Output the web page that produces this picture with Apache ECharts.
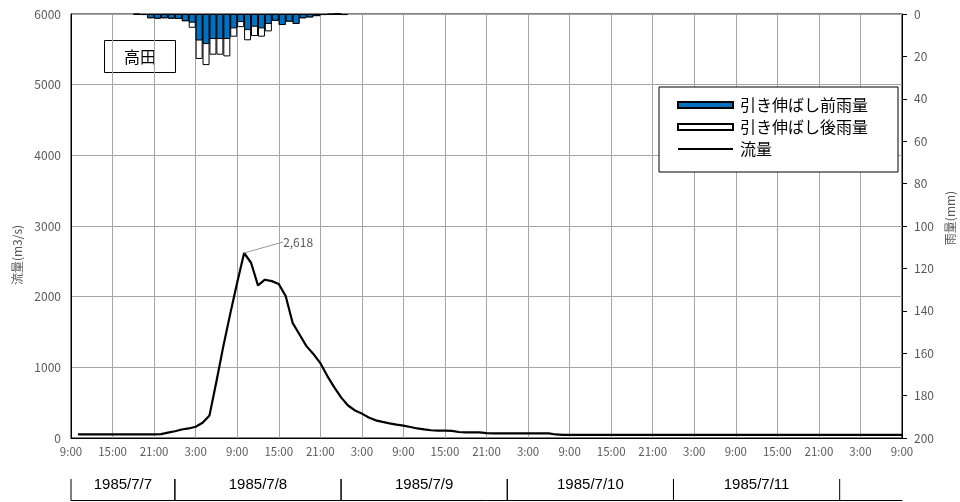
<!DOCTYPE html>
<html><head><meta charset="utf-8">
<script src="https://cdn.jsdelivr.net/npm/echarts@6/dist/echarts.min.js"></script>
<style>html,body{margin:0;padding:0;background:#fff}#c{width:960px;height:502px}</style>
</head><body><div id="c"></div>
<script>
const stationName = '高田';
const seriesNames = ['引き伸ばし前雨量', '引き伸ばし後雨量', '流量'];
const leftAxisName = '流量(m3/s)';
const rightAxisName = '雨量(mm)';
const hourTickLabels = ['9:00','15:00','21:00','3:00','9:00','15:00','21:00','3:00','9:00','15:00','21:00','3:00','9:00','15:00','21:00','3:00','9:00','15:00','21:00','3:00','9:00'];
const dayLabels = ['1985/7/7', '1985/7/8', '1985/7/9', '1985/7/10', '1985/7/11'];
const dayBoundaryHours = [0, 15, 39, 63, 87, 111];

// hourly rain, first bar covers hour 9 -> 10 from 1985/7/7 9:00
const rainStartHour = 9;
const rainBefore = [0.3,0.5,2.0,2.2,2.0,2.2,2.3,3.4,4.1,12.5,14.2,11.8,11.8,11.8,6.8,3.8,7.6,6.0,6.8,4.7,3.2,5.2,3.6,4.7,2.0,1.6,1.0,0.5,0.3,0,0.5];
const rainAfter  = [0.3,0.5,2.0,2.2,2.0,2.2,2.3,3.4,6.5,21.2,24.1,19.2,19.2,20.0,10.7,6.2,12.4,10.4,10.7,8.2,3.2,5.2,3.6,4.7,2.0,1.6,1.0,0.5,0.3,0,0.5];

// hourly discharge, first value at hour 1 (1985/7/7 10:00)
const flowStartHour = 1;
const flow = [
  50,50,50,50,50,50,50,50,50,50,50,50,
  55,75,95,120,135,160,215,320,800,1300,1760,2200,
  2618,2480,2160,2240,2220,2180,2010,1630,1465,1300,1190,1060,
  880,720,575,460,390,345,290,250,228,208,190,175,
  155,135,122,110,104,104,100,85,80,80,80,68,
  66,66,66,66,66,66,66,66,66,50,45,45,
  45,45,45,45,45,45,45,45,45,45,45,45,
  45,45,45,45,45,45,45,45,45,45,45,45,
  45,45,45,45,45,45,45,45,45,45,45,45,
  45,45,45,45,45,45,45,45,45,45,45,45
];
const peakLabel = '2,618';

const FONT = '"Noto Sans CJK JP", "Noto Sans", sans-serif';
const GRAY = '#595959';

const peakIdx = flow.indexOf(Math.max(...flow));
const flowData = flow.map((v, i) => {
  const p = [flowStartHour + i, v];
  if (i === peakIdx) {
    return { value: p, label: { show: true, position: 'right', formatter: peakLabel } };
  }
  return p;
});
const beforeData = rainBefore.map((v, i) => [rainStartHour + i + 0.5, v]);
const afterData = rainAfter.map((v, i) => [rainStartHour + i + 0.5, v]);
const dayData = dayLabels.map((d, i) => [dayBoundaryHours[i], dayBoundaryHours[i + 1], d]);

const chart = echarts.init(document.getElementById('c'), null, { renderer: 'canvas' });
chart.setOption({
  animation: false,
  textStyle: { fontFamily: FONT },
  grid: [
    { left: 71, right: 58, top: 14, bottom: 64, show: true, borderColor: '#000', borderWidth: 1, outerBoundsMode: 'none', containLabel: false },
    { left: 71, right: 58, top: 479, height: 21, outerBoundsMode: 'none', containLabel: false }
  ],
  legend: {
    data: [
      { name: seriesNames[0], icon: 'rect' },
      { name: seriesNames[1], icon: 'rect' },
      { name: seriesNames[2], icon: 'path://M0 0H55V2.2H0Z' }
    ],
    orient: 'vertical', left: 659, top: 87,
    padding: [10, 30, 15, 18],
    itemWidth: 55, itemHeight: 6, itemGap: 6,
    borderColor: '#000', borderWidth: 1, backgroundColor: '#fff',
    selectedMode: false,
    textStyle: { fontSize: 16, color: '#000', fontFamily: FONT, padding: [0, 0, 0, 2] }
  },
  xAxis: [
    {
      type: 'value', gridIndex: 0, min: 0, max: 120, interval: 6,
      axisLine: { lineStyle: { color: '#000', width: 1 } },
      axisTick: { show: false },
      axisLabel: {
        color: GRAY, fontSize: 11.5, margin: 8,
        formatter: v => hourTickLabels[Math.round(v / 6)]
      },
      splitLine: { show: true, lineStyle: { color: '#a6a6a6', width: 1 } }
    },
    {
      type: 'value', gridIndex: 1, min: 0, max: 120, position: 'bottom',
      axisLine: { show: true, onZero: false, lineStyle: { color: '#000', width: 1 } },
      axisTick: { show: false }, axisLabel: { show: false }, splitLine: { show: false }
    }
  ],
  yAxis: [
    {
      type: 'value', gridIndex: 0, min: 0, max: 6000, interval: 1000,
      name: leftAxisName, nameLocation: 'middle', nameGap: 47,
      nameTextStyle: { color: GRAY, fontSize: 12, padding: [0, 58, 0, 0] },
      axisLine: { show: true, lineStyle: { color: '#000', width: 1 } },
      axisTick: { show: false },
      axisLabel: { color: GRAY, fontSize: 12, margin: 10, formatter: v => String(v) },
      splitLine: { show: true, lineStyle: { color: '#a6a6a6', width: 1 } }
    },
    {
      type: 'value', gridIndex: 0, min: 0, max: 200, interval: 20, inverse: true, position: 'right',
      name: rightAxisName, nameLocation: 'middle', nameGap: 38, nameRotate: 90,
      nameTextStyle: { color: GRAY, fontSize: 12, padding: [0, 0, 0, 16] },
      axisLine: { show: true, lineStyle: { color: '#000', width: 1 } },
      axisTick: { show: true, length: 5, lineStyle: { color: '#000' } },
      axisLabel: { color: GRAY, fontSize: 12, margin: 12, formatter: v => String(v) },
      splitLine: { show: false }
    },
    {
      type: 'value', gridIndex: 1, min: 0, max: 1, show: false
    }
  ],
  series: [
    {
      name: seriesNames[1], type: 'bar', xAxisIndex: 0, yAxisIndex: 1,
      data: afterData, barWidth: 7, barGap: '-100%',
      itemStyle: { color: '#fff', borderColor: '#000', borderWidth: 1 }
    },
    {
      name: seriesNames[0], type: 'bar', xAxisIndex: 0, yAxisIndex: 1,
      data: beforeData, barWidth: 7, barGap: '-100%',
      itemStyle: { color: '#0070c0', borderColor: '#000', borderWidth: 1 }
    },
    {
      name: seriesNames[2], type: 'line', xAxisIndex: 0, yAxisIndex: 0,
      data: flowData, symbol: 'circle', symbolSize: 0, showSymbol: true,
      lineStyle: { color: '#000', width: 2.2 },
      itemStyle: { color: '#000' },
      label: { color: GRAY, fontSize: 12, padding: [0, 0, 0, 2] },
      labelLayout: { dx: 32, dy: -11 },
      labelLine: { show: true, lineStyle: { color: '#999', width: 1 } },
      z: 5
    },
    {
      type: 'custom', xAxisIndex: 1, yAxisIndex: 2, data: dayData, silent: true,
      renderItem: (params, api) => {
        const s = api.value(0), e = api.value(1);
        const a0 = api.coord([s, 0]), a1 = api.coord([s, 1]);
        const b0 = api.coord([e, 0]), b1 = api.coord([e, 1]);
        const pm = api.coord([(s + e) / 2, 0]);
        return {
          type: 'group',
          children: [
            { type: 'line', shape: { x1: a0[0], y1: a0[1], x2: a1[0], y2: a1[1] }, style: { stroke: '#000', lineWidth: 1 } },
            { type: 'line', shape: { x1: b0[0], y1: b0[1], x2: b1[0], y2: b1[1] }, style: { stroke: '#000', lineWidth: 1 } },
            { type: 'text', x: pm[0], y: pm[1] - 15, style: { text: dayLabels[params.dataIndex], font: '15px "Liberation Sans", sans-serif', fill: '#000', align: 'center', verticalAlign: 'middle' } }
          ]
        };
      }
    }
  ],
  graphic: [
    {
      type: 'group', left: 104, top: 40, z: 100,
      children: [
        { type: 'rect', shape: { x: 0, y: 0, width: 71, height: 32 }, style: { fill: '#fff', stroke: '#000', lineWidth: 1 } },
        { type: 'text', x: 35.5, y: 16, style: { text: stationName, font: '16px ' + FONT, fill: '#000', align: 'center', verticalAlign: 'middle' } }
      ]
    }
  ]
});
</script>
</body></html>
